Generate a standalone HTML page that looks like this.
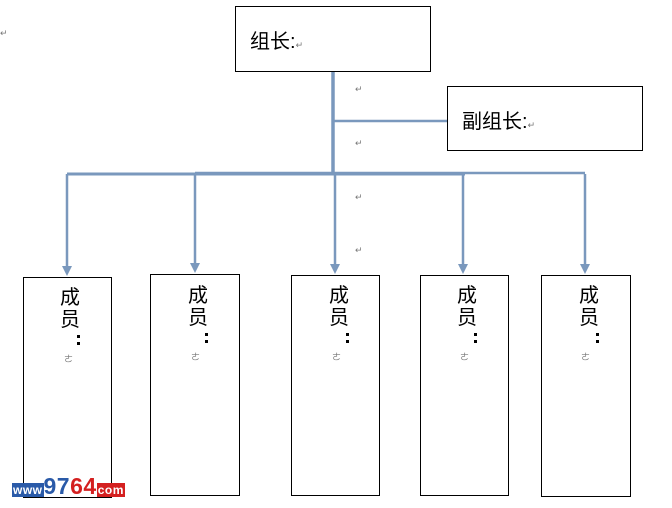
<!DOCTYPE html>
<html><head><meta charset="utf-8"><style>
body{margin:0;width:672px;height:508px;background:#fff;position:relative;overflow:hidden;font-family:"Liberation Sans","Noto Sans CJK SC",sans-serif}
.b{position:absolute;border:1.5px solid #000;background:#fff;box-sizing:border-box}
.t{position:absolute;font-size:20px;color:#000;line-height:24px}
.m{position:absolute;font-size:20px;line-height:22px;width:22px;text-align:center}
.c{position:absolute;width:3px;height:3px;background:#000}
.s{position:absolute;font-size:9px;color:#777}
</style></head><body>
<svg width="672" height="508" style="position:absolute;left:0;top:0">
<g stroke="#7a98bd" fill="none">
<line x1="333" y1="71" x2="333" y2="174" stroke-width="3.5"/>
<line x1="333" y1="121" x2="447" y2="121" stroke-width="2.5"/>
<line x1="67" y1="174" x2="465" y2="174" stroke-width="3"/>
<line x1="195" y1="173" x2="585" y2="173" stroke-width="2.5"/>
<line x1="67" y1="174" x2="67" y2="268" stroke-width="2.5"/>
<line x1="195" y1="174" x2="195" y2="265" stroke-width="2.5"/>
<line x1="335" y1="174" x2="335" y2="266" stroke-width="2.5"/>
<line x1="463" y1="174" x2="463" y2="266" stroke-width="2.5"/>
<line x1="585" y1="174" x2="585" y2="266" stroke-width="2.5"/>
</g>
<g fill="#7a98bd">
<polygon points="62,266 72,266 67,276"/>
<polygon points="190,263 200,263 195,273"/>
<polygon points="330,264 340,264 335,274"/>
<polygon points="458,264 468,264 463,274"/>
<polygon points="580,264 590,264 585,274"/>
</g>
</svg>
<div class="b" style="left:235px;top:6px;width:196px;height:66px"></div>
<div class="t" style="left:250px;top:30px">组长:<span style="font-size:9px;color:#777">↵</span></div>
<div class="b" style="left:447px;top:86px;width:196px;height:65px"></div>
<div class="t" style="left:462px;top:110px">副组长:<span style="font-size:9px;color:#777">↵</span></div>
<div class="s" style="left:355px;top:84px">↵</div>
<div class="s" style="left:355px;top:138px">↵</div>
<div class="s" style="left:355px;top:192px">↵</div>
<div class="s" style="left:355px;top:245px">↵</div>
<div class="s" style="left:0;top:28px">↵</div>

<div class="b" style="left:23px;top:277px;width:89px;height:221px"></div>
<div class="b" style="left:150px;top:274px;width:90px;height:222px"></div>
<div class="b" style="left:291px;top:275px;width:89px;height:221px"></div>
<div class="b" style="left:420px;top:275px;width:89px;height:221px"></div>
<div class="b" style="left:541px;top:275px;width:90px;height:222px"></div>

<div class="m" style="left:59px;top:287px">成<br>员</div><div class="c" style="left:77px;top:335px"></div><div class="c" style="left:77px;top:342px"></div>
<div class="m" style="left:187px;top:285px">成<br>员</div><div class="c" style="left:205px;top:333px"></div><div class="c" style="left:205px;top:340px"></div>
<div class="m" style="left:328px;top:285px">成<br>员</div><div class="c" style="left:346px;top:333px"></div><div class="c" style="left:346px;top:340px"></div>
<div class="m" style="left:456px;top:285px">成<br>员</div><div class="c" style="left:474px;top:333px"></div><div class="c" style="left:474px;top:340px"></div>
<div class="m" style="left:578px;top:285px">成<br>员</div><div class="c" style="left:596px;top:333px"></div><div class="c" style="left:596px;top:340px"></div>
<div class="s" style="left:64px;top:352px">ㄜ</div>
<div class="s" style="left:191px;top:350px">ㄜ</div>
<div class="s" style="left:332px;top:350px">ㄜ</div>
<div class="s" style="left:460px;top:350px">ㄜ</div>
<div class="s" style="left:581px;top:350px">ㄜ</div>

<div style="position:absolute;left:12px;top:476px;font:bold 12px 'Liberation Sans',sans-serif;white-space:nowrap;line-height:20px;letter-spacing:0.5px">
<span style="background:#2a5aa8;color:#fff;padding:0 1px">www</span><span style="color:#2a5aa8;font-size:23px">97</span><span style="color:#d42020;font-size:23px">64</span><span style="background:#d42020;color:#fff;padding:0 1px">com</span></div>
</body></html>
